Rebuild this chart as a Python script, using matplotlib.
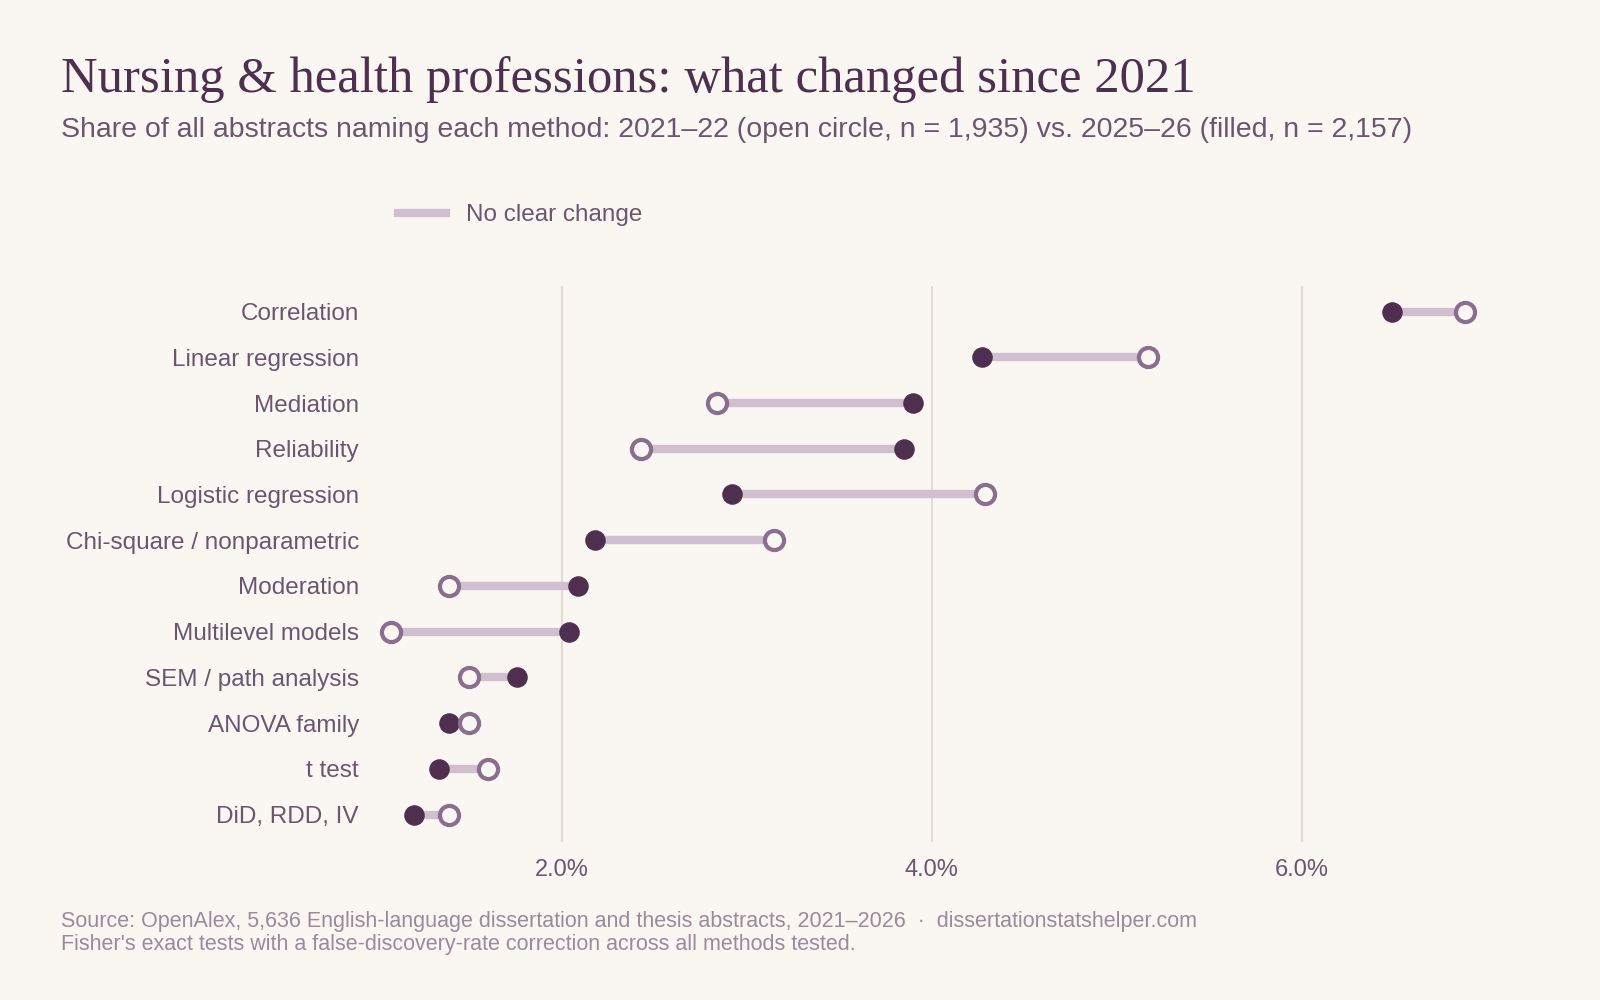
import matplotlib
matplotlib.use("Agg")
import matplotlib.pyplot as plt
from matplotlib.lines import Line2D

plt.rcParams['font.family'] = ['Liberation Sans', 'DejaVu Sans']

methods = ["Correlation", "Linear regression", "Mediation", "Reliability",
           "Logistic regression", "Chi-square / nonparametric", "Moderation",
           "Multilevel models", "SEM / path analysis", "ANOVA family", "t test",
           "DiD, RDD, IV"]
share_2021 = [6.88, 5.17, 2.84, 2.43, 4.29, 3.15, 1.39, 1.08, 1.50, 1.50, 1.60, 1.39]
share_2025 = [6.49, 4.27, 3.90, 3.85, 2.92, 2.18, 2.09, 2.04, 1.76, 1.39, 1.34, 1.20]
xticks = [2.0, 4.0, 6.0]

bg = "#faf7f2"
dark = "#4e2f4f"
openc = "#8a6d8f"
linec = "#cfbfcf"
textc = "#6b5670"

fig = plt.figure(figsize=(16, 10), dpi=100, facecolor=bg)
ax = fig.add_axes([0.233, 0.158, 0.724, 0.556], facecolor=bg)

ys = list(range(len(methods)))
for y, a, b in zip(ys, share_2021, share_2025):
    ax.plot([a, b], [y, y], color=linec, lw=6, solid_capstyle="butt", zorder=2)
ax.scatter(share_2025, ys, s=190, color=dark, zorder=4)
ax.scatter(share_2021, ys, s=190, facecolor=bg, edgecolor=openc, linewidth=3, zorder=4)

ax.set_xlim(0.98, 7.24)
ax.set_ylim(len(methods) - 1 + 0.6, -0.56)
ax.set_yticks(ys)
ax.set_yticklabels(methods, fontsize=17.5, color=textc)
ax.set_xticks(xticks)
ax.set_xticklabels([f"{t:.1f}%" for t in xticks], fontsize=17, color=textc)
ax.tick_params(length=0, pad=12)
ax.tick_params(axis="y", pad=10)
for s in ax.spines.values():
    s.set_visible(False)
ax.grid(axis="x", color="#e3dad3", lw=1.5, zorder=0)
ax.set_axisbelow(True)

fig.text(0.038, 0.908, "Nursing & health professions: what changed since 2021",
         family="Liberation Serif", fontsize=36.5, color=dark, va="baseline")
fig.text(0.038, 0.863, "Share of all abstracts naming each method: 2021–22 (open circle, n = 1,935) vs. 2025–26 (filled, n = 2,157)",
         fontsize=20.5, color=textc, va="baseline")

h = [Line2D([0], [0], color=linec, lw=6)]
fig.legend(h, ["No clear change"], loc="center left", bbox_to_anchor=(0.235, 0.785),
           frameon=False, fontsize=17.5, labelcolor=textc, handlelength=2.0)

fig.text(0.038, 0.073, "Source: OpenAlex, 5,636 English-language dissertation and thesis abstracts, 2021–2026  ·  dissertationstatshelper.com",
         fontsize=15.5, color="#9a8a9c", va="baseline")
fig.text(0.038, 0.050, "Fisher's exact tests with a false-discovery-rate correction across all methods tested.",
         fontsize=15.5, color="#9a8a9c", va="baseline")

fig.savefig("out.png", facecolor=bg)
